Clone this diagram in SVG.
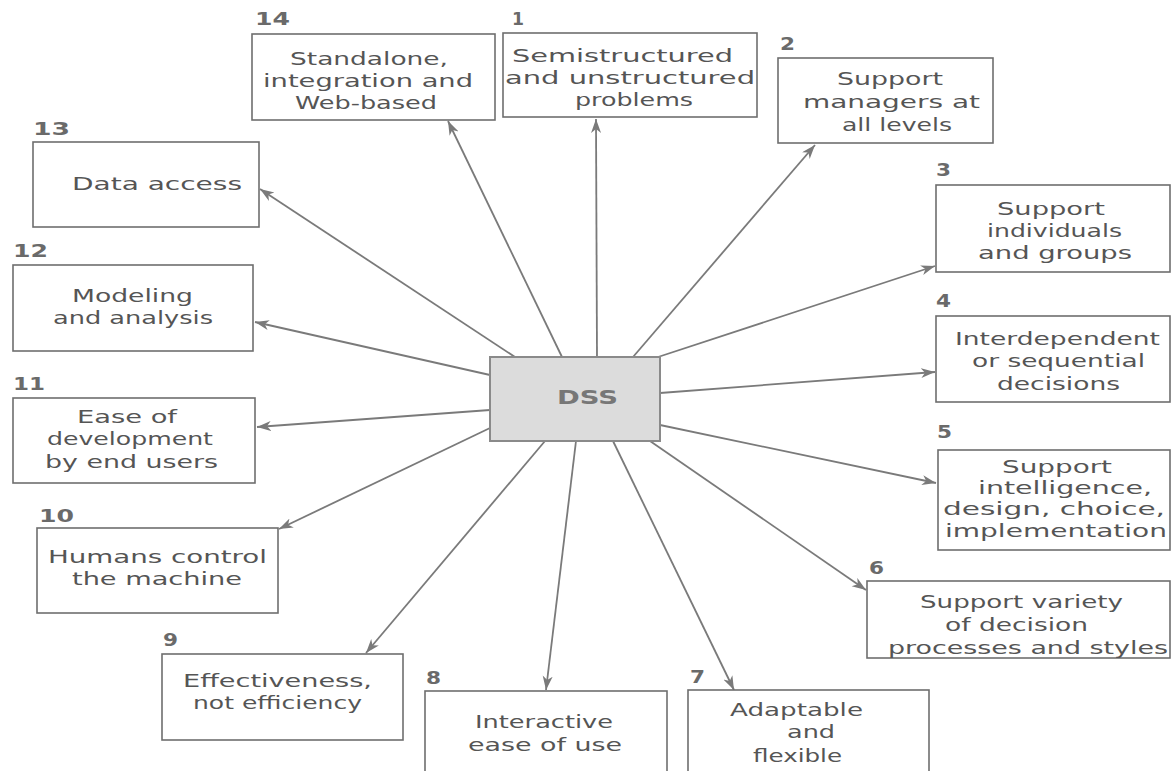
<svg xmlns="http://www.w3.org/2000/svg" width="1171" height="771" viewBox="0 0 1171 771">
  <style>
    .box { fill: #ffffff; stroke: #6e6e6e; stroke-width: 1.6; }
    .t { font-family: "DejaVu Sans", "Liberation Sans", sans-serif; font-size: 18px; fill: #555555; }
    .num { font-family: "DejaVu Sans", "Liberation Sans", sans-serif; font-size: 18px; font-weight: bold; fill: #6a6a6a; }
    .link { stroke: #7a7a7a; stroke-width: 1.8; fill: none; marker-end: url(#head); }
  </style>
  <defs>
    <marker id="head" markerUnits="userSpaceOnUse" markerWidth="16" markerHeight="12" refX="14" refY="5" orient="auto">
      <path d="M0,0 L14,5 L0,10 L4,5 Z" fill="#7a7a7a"/>
    </marker>
  </defs>

  <rect width="1171" height="771" fill="#ffffff"/>

  <!-- connectors from the central DSS box -->
  <g id="connectors">
    <line class="link" x1="597" y1="357" x2="596" y2="119"/>
    <line class="link" x1="633" y1="357" x2="815" y2="145"/>
    <line class="link" x1="655" y1="358" x2="935" y2="266"/>
    <line class="link" x1="660" y1="393" x2="935" y2="372"/>
    <line class="link" x1="660" y1="425" x2="936" y2="483"/>
    <line class="link" x1="650" y1="441" x2="866" y2="590"/>
    <line class="link" x1="613" y1="441" x2="734" y2="690"/>
    <line class="link" x1="576" y1="441" x2="546" y2="690"/>
    <line class="link" x1="545" y1="441" x2="366" y2="653"/>
    <line class="link" x1="490" y1="428" x2="279" y2="529"/>
    <line class="link" x1="490" y1="410" x2="257" y2="427"/>
    <line class="link" x1="490" y1="375" x2="255" y2="322"/>
    <line class="link" x1="515" y1="357" x2="260" y2="189"/>
    <line class="link" x1="562" y1="357" x2="448" y2="121"/>
  </g>

  <!-- central node -->
  <g id="dss">
    <rect x="490" y="357" width="170" height="84" fill="#dcdcdc" stroke="#8a8a8a" stroke-width="2"/>
    <text x="557" y="404" font-family="DejaVu Sans, sans-serif" font-size="19" font-weight="bold" fill="#777777" textLength="61" lengthAdjust="spacingAndGlyphs">DSS</text>
  </g>

  <g id="n1">
    <text class="num" x="512" y="25" textLength="12" lengthAdjust="spacingAndGlyphs">1</text>
    <rect class="box" x="503" y="33" width="254" height="84"/>
    <text class="t" x="512" y="62" textLength="221" lengthAdjust="spacingAndGlyphs">Semistructured</text>
    <text class="t" x="505" y="84" textLength="250" lengthAdjust="spacingAndGlyphs">and unstructured</text>
    <text class="t" x="575" y="106" textLength="118" lengthAdjust="spacingAndGlyphs">problems</text>
  </g>

  <g id="n2">
    <text class="num" x="780" y="50" textLength="15" lengthAdjust="spacingAndGlyphs">2</text>
    <rect class="box" x="778" y="58" width="215" height="85"/>
    <text class="t" x="837" y="85" textLength="106" lengthAdjust="spacingAndGlyphs">Support</text>
    <text class="t" x="803" y="108" textLength="177" lengthAdjust="spacingAndGlyphs">managers at</text>
    <text class="t" x="842" y="131" textLength="110" lengthAdjust="spacingAndGlyphs">all levels</text>
  </g>

  <g id="n3">
    <text class="num" x="936" y="176" textLength="15" lengthAdjust="spacingAndGlyphs">3</text>
    <rect class="box" x="936" y="185" width="234" height="87"/>
    <text class="t" x="997" y="215" textLength="108" lengthAdjust="spacingAndGlyphs">Support</text>
    <text class="t" x="987" y="237" textLength="135" lengthAdjust="spacingAndGlyphs">individuals</text>
    <text class="t" x="978" y="259" textLength="154" lengthAdjust="spacingAndGlyphs">and groups</text>
  </g>

  <g id="n4">
    <text class="num" x="936" y="307" textLength="15" lengthAdjust="spacingAndGlyphs">4</text>
    <rect class="box" x="936" y="316" width="234" height="86"/>
    <text class="t" x="955" y="345" textLength="205" lengthAdjust="spacingAndGlyphs">Interdependent</text>
    <text class="t" x="972" y="367" textLength="173" lengthAdjust="spacingAndGlyphs">or sequential</text>
    <text class="t" x="997" y="390" textLength="123" lengthAdjust="spacingAndGlyphs">decisions</text>
  </g>

  <g id="n5">
    <text class="num" x="937" y="438" textLength="15" lengthAdjust="spacingAndGlyphs">5</text>
    <rect class="box" x="938" y="450" width="232" height="100"/>
    <text class="t" x="1002" y="473" textLength="110" lengthAdjust="spacingAndGlyphs">Support</text>
    <text class="t" x="978" y="494" textLength="174" lengthAdjust="spacingAndGlyphs">intelligence,</text>
    <text class="t" x="943" y="515" textLength="222" lengthAdjust="spacingAndGlyphs">design, choice,</text>
    <text class="t" x="945" y="537" textLength="222" lengthAdjust="spacingAndGlyphs">implementation</text>
  </g>

  <g id="n6">
    <text class="num" x="869" y="574" textLength="15" lengthAdjust="spacingAndGlyphs">6</text>
    <rect class="box" x="867" y="581" width="303" height="77"/>
    <text class="t" x="920" y="608" textLength="203" lengthAdjust="spacingAndGlyphs">Support variety</text>
    <text class="t" x="945" y="631" textLength="143" lengthAdjust="spacingAndGlyphs">of decision</text>
    <text class="t" x="888" y="654" textLength="280" lengthAdjust="spacingAndGlyphs">processes and styles</text>
  </g>

  <g id="n7">
    <text class="num" x="690" y="683" textLength="15" lengthAdjust="spacingAndGlyphs">7</text>
    <rect class="box" x="688" y="690" width="241" height="90"/>
    <text class="t" x="730" y="716" textLength="133" lengthAdjust="spacingAndGlyphs">Adaptable</text>
    <text class="t" x="787" y="738" textLength="48" lengthAdjust="spacingAndGlyphs">and</text>
    <text class="t" x="753" y="762" textLength="89" lengthAdjust="spacingAndGlyphs">flexible</text>
  </g>

  <g id="n8">
    <text class="num" x="426" y="684" textLength="15" lengthAdjust="spacingAndGlyphs">8</text>
    <rect class="box" x="425" y="691" width="242" height="90"/>
    <text class="t" x="475" y="728" textLength="138" lengthAdjust="spacingAndGlyphs">Interactive</text>
    <text class="t" x="468" y="751" textLength="154" lengthAdjust="spacingAndGlyphs">ease of use</text>
  </g>

  <g id="n9">
    <text class="num" x="163" y="646" textLength="15" lengthAdjust="spacingAndGlyphs">9</text>
    <rect class="box" x="162" y="654" width="241" height="86"/>
    <text class="t" x="183" y="687" textLength="189" lengthAdjust="spacingAndGlyphs">Effectiveness,</text>
    <text class="t" x="193" y="709" textLength="169" lengthAdjust="spacingAndGlyphs">not efficiency</text>
  </g>

  <g id="n10">
    <text class="num" x="39" y="522" textLength="35" lengthAdjust="spacingAndGlyphs">10</text>
    <rect class="box" x="37" y="528" width="241" height="85"/>
    <text class="t" x="48" y="563" textLength="219" lengthAdjust="spacingAndGlyphs">Humans control</text>
    <text class="t" x="72" y="585" textLength="170" lengthAdjust="spacingAndGlyphs">the machine</text>
  </g>

  <g id="n11">
    <text class="num" x="13" y="390" textLength="32" lengthAdjust="spacingAndGlyphs">11</text>
    <rect class="box" x="13" y="398" width="242" height="85"/>
    <text class="t" x="77" y="423" textLength="100" lengthAdjust="spacingAndGlyphs">Ease of</text>
    <text class="t" x="47" y="445" textLength="166" lengthAdjust="spacingAndGlyphs">development</text>
    <text class="t" x="45" y="468" textLength="173" lengthAdjust="spacingAndGlyphs">by end users</text>
  </g>

  <g id="n12">
    <text class="num" x="13" y="257" textLength="35" lengthAdjust="spacingAndGlyphs">12</text>
    <rect class="box" x="13" y="265" width="240" height="86"/>
    <text class="t" x="72" y="302" textLength="121" lengthAdjust="spacingAndGlyphs">Modeling</text>
    <text class="t" x="53" y="324" textLength="160" lengthAdjust="spacingAndGlyphs">and analysis</text>
  </g>

  <g id="n13">
    <text class="num" x="33" y="135" textLength="37" lengthAdjust="spacingAndGlyphs">13</text>
    <rect class="box" x="33" y="142" width="226" height="85"/>
    <text class="t" x="72" y="190" textLength="170" lengthAdjust="spacingAndGlyphs">Data access</text>
  </g>

  <g id="n14">
    <text class="num" x="255" y="25" textLength="35" lengthAdjust="spacingAndGlyphs">14</text>
    <rect class="box" x="252" y="34" width="243" height="86"/>
    <text class="t" x="290" y="65" textLength="158" lengthAdjust="spacingAndGlyphs">Standalone,</text>
    <text class="t" x="263" y="87" textLength="210" lengthAdjust="spacingAndGlyphs">integration and</text>
    <text class="t" x="295" y="109" textLength="142" lengthAdjust="spacingAndGlyphs">Web-based</text>
  </g>
</svg>
